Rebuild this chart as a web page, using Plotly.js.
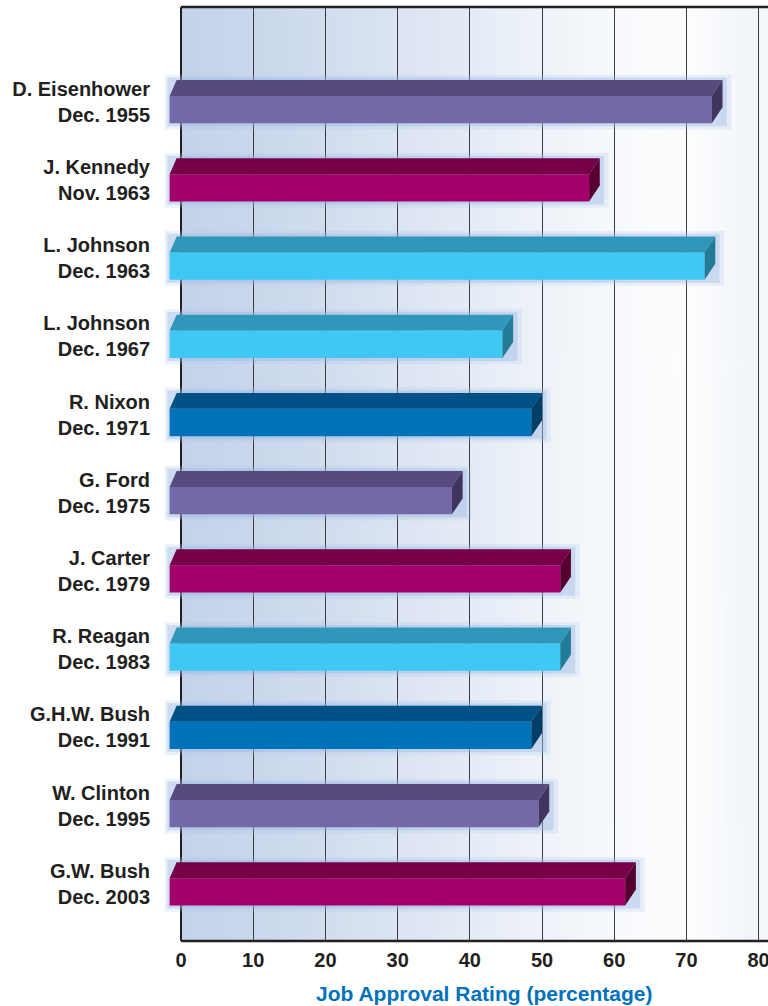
<!DOCTYPE html>
<html>
<head>
<meta charset="utf-8">
<script src="https://cdn.plot.ly/plotly-3.0.1.min.js"></script>
<style>
  html, body { margin: 0; padding: 0; background: #ffffff; }
  #chart { width: 768px; height: 1006px; }
</style>
</head>
<body>
<div id="chart"></div>
<script>
// ---------------- data ----------------
const presidents = ['D. Eisenhower', 'J. Kennedy', 'L. Johnson', 'L. Johnson', 'R. Nixon', 'G. Ford',
                    'J. Carter', 'R. Reagan', 'G.H.W. Bush', 'W. Clinton', 'G.W. Bush'];
const pollDates = ['Dec. 1955', 'Nov. 1963', 'Dec. 1963', 'Dec. 1967', 'Dec. 1971', 'Dec. 1975',
                   'Dec. 1979', 'Dec. 1983', 'Dec. 1991', 'Dec. 1995', 'Dec. 2003'];
const approval = [75, 58, 74, 46, 50, 39, 54, 54, 50, 51, 63];
const xTickValues = [0, 10, 20, 30, 40, 50, 60, 70, 80];
const xAxisTitle = 'Job Approval Rating (percentage)';

// ---------------- style ----------------
const colourGroup = ['purple', 'magenta', 'cyan', 'cyan', 'blue', 'purple', 'magenta', 'cyan', 'blue', 'purple', 'magenta'];
const palette = {
  purple:  { front: '#7568a6', top: '#574b7d', side: '#41355f' },
  magenta: { front: '#a3006b', top: '#750047', side: '#56002f' },
  cyan:    { front: '#40c8f4', top: '#3097bb', side: '#227c98' },
  blue:    { front: '#0072b9', top: '#005286', side: '#003f67' }
};
const X_MIN = -2.5, X_MAX = 81.3;
const BASE = -1.58;        // left end of the bar front (drawn slightly left of the axis)
const DX_R = 1.48;         // depth of the 3-D top at the right end (x units)
const DX_L = 0.97;         // depth at the left end
const FRONT_TOP = -0.073, FRONT_BOT = 0.276, TOP_TOP = -0.277, SIDE_BOT = 0.072;
const ink = '#231f20';
const fontFamily = '"Liberation Sans", Arial, sans-serif';

const pos = presidents.map((_, i) => i);
const tickText = presidents.map((p, i) => p + '<br>' + pollDates[i]);

const traces = [];

// soft glow behind the bars
traces.push({
  type: 'bar', orientation: 'h', y: pos,
  base: approval.map(() => BASE - 0.7),
  x: approval.map(v => v + 1.2 - (BASE - 0.7)),
  offset: -0.345, width: 0.70,
  marker: { color: 'rgba(170,195,232,0.22)', line: { width: 0 } },
  hoverinfo: 'skip', showlegend: false
});
traces.push({
  type: 'bar', orientation: 'h', y: pos,
  base: approval.map(() => BASE - 0.35),
  x: approval.map(v => v + 0.6 - (BASE - 0.35)),
  offset: -0.31, width: 0.625,
  marker: { color: 'rgba(150,180,225,0.35)', line: { width: 0 } },
  hoverinfo: 'skip', showlegend: false
});

// front faces of the bars
traces.push({
  type: 'bar', orientation: 'h', y: pos,
  base: approval.map(() => BASE),
  x: approval.map(v => v - DX_R - BASE),
  offset: FRONT_TOP, width: FRONT_BOT - FRONT_TOP,
  marker: { color: colourGroup.map(g => palette[g].front), line: { width: 0 } },
  hovertemplate: '%{customdata}%<extra></extra>',
  customdata: approval,
  showlegend: false
});

// top and side faces (3-D effect) built from the same values
approval.forEach((v, i) => {
  const g = palette[colourGroup[i]];
  traces.push({
    type: 'scatter', mode: 'lines', fill: 'toself',
    x: [BASE, BASE + DX_L, v, v - DX_R, BASE],
    y: [i + FRONT_TOP, i + TOP_TOP, i + TOP_TOP, i + FRONT_TOP, i + FRONT_TOP],
    line: { width: 0, color: g.top }, fillcolor: g.top,
    hoverinfo: 'skip', showlegend: false
  });
  traces.push({
    type: 'scatter', mode: 'lines', fill: 'toself',
    x: [v - DX_R, v, v, v - DX_R, v - DX_R],
    y: [i + FRONT_TOP, i + TOP_TOP, i + SIDE_BOT, i + FRONT_BOT, i + FRONT_TOP],
    line: { width: 0, color: g.side }, fillcolor: g.side,
    hoverinfo: 'skip', showlegend: false
  });
});

// background gradient as an image
function gradientURL() {
  const c = document.createElement('canvas');
  c.width = 600; c.height = 4;
  const ctx = c.getContext('2d');
  const grd = ctx.createLinearGradient(0, 0, 600, 0);
  grd.addColorStop(0.0, '#c3d3ea');
  grd.addColorStop(0.25, '#d2ddef');
  grd.addColorStop(0.45, '#e2e9f5');
  grd.addColorStop(0.65, '#f1f5fa');
  grd.addColorStop(0.8, '#fbfcfe');
  grd.addColorStop(0.87, '#fdfdfe');
  grd.addColorStop(0.97, '#f1f5fa');
  grd.addColorStop(1.0, '#f6f8fc');
  ctx.fillStyle = grd;
  ctx.fillRect(0, 0, 600, 4);
  return c.toDataURL('image/png');
}

const layout = {
  width: 768, height: 1006,
  margin: { l: 163, r: 0, t: 7, b: 65, pad: 0 },
  paper_bgcolor: '#ffffff', plot_bgcolor: '#ffffff',
  showlegend: false,
  barmode: 'overlay',
  font: { family: fontFamily, color: ink },
  xaxis: {
    range: [X_MIN, X_MAX],
    tickmode: 'array', tickvals: xTickValues, ticktext: xTickValues.map(String),
    showgrid: true, gridcolor: '#3c3c3c', gridwidth: 1,
    zeroline: true, zerolinecolor: ink, zerolinewidth: 2.5,
    showline: false, ticks: '', ticklabelstandoff: 5,
    ticklabeloverflow: 'allow',
    tickfont: { size: 20, family: fontFamily, color: ink, weight: 'bold' },
    automargin: false, fixedrange: true
  },
  yaxis: {
    range: [10.73, -1.21],
    tickmode: 'array', tickvals: pos, ticktext: tickText,
    showgrid: false, zeroline: false, showline: false,
    ticks: 'outside', ticklen: 8, tickcolor: 'rgba(0,0,0,0)',
    tickfont: { size: 20, family: fontFamily, color: ink, weight: 'bold' },
    automargin: false, fixedrange: true
  },
  annotations: [{
    text: '<b>' + xAxisTitle + '</b>', xref: 'x', yref: 'paper', x: 42, y: -0.0557,
    xanchor: 'center', yanchor: 'middle', showarrow: false,
    font: { size: 21, color: '#0071bc', family: fontFamily }
  }],
  images: [{
    source: gradientURL(), xref: 'x', yref: 'paper',
    x: 0, y: 1, sizex: X_MAX, sizey: 1, sizing: 'stretch',
    xanchor: 'left', yanchor: 'top', layer: 'below'
  }],
  shapes: [
    { type: 'line', xref: 'x', yref: 'paper', x0: 0, x1: X_MAX, y0: 1, y1: 1, layer: 'between', line: { color: ink, width: 2.5 } },
    { type: 'line', xref: 'x', yref: 'paper', x0: 0, x1: X_MAX, y0: 0, y1: 0, layer: 'between', line: { color: ink, width: 2.5 } }
  ]
};

Plotly.newPlot('chart', traces, layout, { displayModeBar: false, staticPlot: true });
</script>
</body>
</html>
